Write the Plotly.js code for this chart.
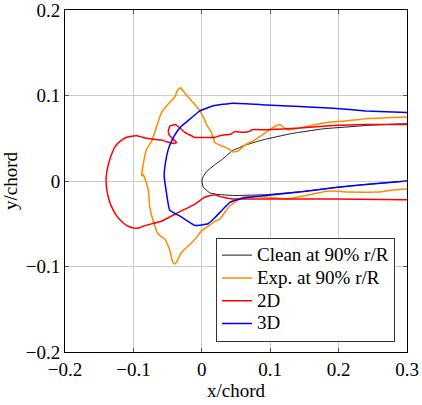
<!DOCTYPE html>
<html>
<head>
<meta charset="utf-8">
<script src="https://cdn.plot.ly/plotly-3.0.1.min.js"></script>
<style>
  html, body { margin: 0; padding: 0; background: #ffffff; }
  #chart { width: 422px; height: 405px; }
</style>
</head>
<body>
<div id="chart"></div>
<script>
// Clean airfoil contour at 90% r/R (upper surface -> leading edge -> lower surface)
const cleanX = [0.300, 0.296, 0.240, 0.226, 0.192, 0.177, 0.143, 0.128, 0.094, 0.080, 0.060, 0.055, 0.046, 0.038, 0.031, 0.019, 0.007, 0.002, 0.000, 0.002, 0.007, 0.012, 0.021, 0.046, 0.060, 0.094, 0.143, 0.192, 0.240, 0.300];
const cleanY = [0.067, 0.067, 0.065, 0.064, 0.062, 0.061, 0.057, 0.055, 0.049, 0.046, 0.041, 0.039, 0.036, 0.031, 0.026, 0.019, 0.011, 0.005, 0.000, -0.007, -0.011, -0.014, -0.0155, -0.0170, -0.0168, -0.0160, -0.0125, -0.0080, -0.0040, 0.000];

// Experimental ice shape at 90% r/R
const expX = [0.300, 0.270, 0.240, 0.231, 0.206, 0.187, 0.167, 0.143, 0.126, 0.121, 0.114, 0.107, 0.094, 0.075, 0.063, 0.053, 0.046, 0.036, 0.029, 0.019, 0.014, 0.007, 0.004, -0.003, -0.013, -0.025, -0.031, -0.035, -0.039, -0.049, -0.059, -0.066, -0.073, -0.081, -0.086, -0.088, -0.086, -0.081, -0.078, -0.076, -0.071, -0.064, -0.054, -0.047, -0.043, -0.040, -0.037, -0.030, -0.020, -0.010, 0.000, 0.009, 0.019, 0.026, 0.041, 0.060, 0.095, 0.124, 0.158, 0.182, 0.201, 0.212, 0.260, 0.274, 0.300];
const expY = [0.075, 0.074, 0.073, 0.072, 0.070, 0.069, 0.066, 0.062, 0.060, 0.062, 0.066, 0.064, 0.057, 0.047, 0.042, 0.035, 0.034, 0.039, 0.041, 0.045, 0.057, 0.066, 0.072, 0.082, 0.092, 0.103, 0.109, 0.107, 0.099, 0.090, 0.080, 0.064, 0.047, 0.037, 0.018, 0.006, 0.008, -0.002, -0.012, -0.031, -0.047, -0.062, -0.068, -0.080, -0.094, -0.097, -0.095, -0.084, -0.076, -0.068, -0.058, -0.053, -0.047, -0.045, -0.029, -0.019, -0.019, -0.021, -0.016, -0.012, -0.012, -0.013, -0.013, -0.011, -0.009];

// 2D simulation ice shape
const sim2dX = [0.300, 0.240, 0.192, 0.143, 0.094, 0.073, 0.070, 0.060, 0.048, 0.043, 0.026, 0.019, -0.003, -0.010, -0.025, -0.032, -0.039, -0.047, -0.049, -0.047, -0.042, -0.037, -0.039, -0.052, -0.059, -0.073, -0.086, -0.095, -0.105, -0.113, -0.120, -0.127, -0.132, -0.136, -0.139, -0.140, -0.139, -0.136, -0.132, -0.126, -0.119, -0.110, -0.100, -0.092, -0.086, -0.078, -0.059, -0.035, -0.010, 0.004, 0.019, 0.026, 0.045, 0.095, 0.191, 0.300];
const sim2dY = [0.066, 0.066, 0.065, 0.062, 0.060, 0.060, 0.058, 0.057, 0.058, 0.055, 0.053, 0.051, 0.051, 0.051, 0.057, 0.062, 0.066, 0.064, 0.058, 0.053, 0.049, 0.045, 0.044, 0.046, 0.048, 0.049, 0.051, 0.053, 0.052, 0.050, 0.046, 0.040, 0.031, 0.021, 0.010, 0.000, -0.010, -0.021, -0.030, -0.039, -0.046, -0.052, -0.055, -0.055, -0.053, -0.051, -0.047, -0.037, -0.027, -0.019, -0.016, -0.018, -0.021, -0.021, -0.021, -0.022];

// 3D simulation ice shape
const sim3dX = [0.300, 0.240, 0.192, 0.094, 0.046, 0.017, -0.003, -0.015, -0.030, -0.037, -0.044, -0.049, -0.053, -0.055, -0.052, -0.047, -0.030, -0.010, 0.009, 0.019, 0.041, 0.060, 0.094, 0.143, 0.192, 0.240, 0.300];
const sim3dY = [0.080, 0.082, 0.085, 0.089, 0.091, 0.088, 0.082, 0.074, 0.064, 0.057, 0.047, 0.037, 0.022, 0.006, -0.012, -0.034, -0.042, -0.052, -0.050, -0.043, -0.025, -0.020, -0.017, -0.013, -0.008, -0.004, 0.000];

const seriesNames = ['Clean at 90% r/R', 'Exp. at 90% r/R', '2D', '3D'];
const seriesColors = ['#000000', '#ff8a00', '#ff0000', '#0000ff'];
const seriesWidths = [0.9, 1.5, 1.5, 1.5];

const tickVals = [-0.2, -0.1, 0, 0.1, 0.2, 0.3];
const tickText = ['\u22120.2', '\u22120.1', '0', '0.1', '0.2', '0.3'];

const xs = [cleanX, expX, sim2dX, sim3dX];
const ys = [cleanY, expY, sim2dY, sim3dY];

const serif = "'Liberation Serif', 'Times New Roman', serif";
const fontSize = 19;
// legend rows are packed tighter than the label size would give
const legendRowSize = 15.2;

const traces = xs.map((x, i) => ({
  type: 'scatter',
  mode: 'lines',
  x: x,
  y: ys[i],
  name: '<span style="font-size:' + fontSize + 'px">' + seriesNames[i] + '</span>',
  line: { color: seriesColors[i], width: seriesWidths[i], shape: 'spline', smoothing: 0.3 }
}));

const axisCommon = {
  showgrid: true,
  gridcolor: '#cccccc',
  gridwidth: 1,
  zeroline: false,
  showline: true,
  linecolor: '#000000',
  linewidth: 1,
  mirror: 'ticks',
  ticks: 'inside',
  ticklen: 4,
  tickcolor: '#555555',
  tickmode: 'array',
  ticklabeloverflow: 'allow',
  tickfont: { family: serif, size: fontSize, color: '#000000' }
};

const layout = {
  width: 422,
  height: 405,
  margin: { l: 65, r: 15, t: 10, b: 53 },
  paper_bgcolor: '#ffffff',
  plot_bgcolor: '#ffffff',
  showlegend: true,
  legend: {
    x: 0.4415, y: 0.03, xanchor: 'left', yanchor: 'bottom',
    bgcolor: '#ffffff', bordercolor: '#333333', borderwidth: 1,
    font: { family: serif, size: legendRowSize, color: '#000000' },
    tracegroupgap: 0
  },
  xaxis: Object.assign({}, axisCommon, {
    range: [-0.2, 0.3],
    tickvals: tickVals,
    ticktext: tickText,
    title: { text: 'x/chord', font: { family: serif, size: fontSize, color: '#000000' }, standoff: 4 }
  }),
  yaxis: Object.assign({}, axisCommon, {
    range: [-0.2, 0.2],
    tickvals: tickVals.slice(0, 5),
    ticktext: tickText.slice(0, 5),
    title: { text: 'y/chord', font: { family: serif, size: fontSize, color: '#000000' }, standoff: 4 }
  })
};

Plotly.newPlot('chart', traces, layout, { displayModeBar: false, staticPlot: true });
</script>
</body>
</html>
